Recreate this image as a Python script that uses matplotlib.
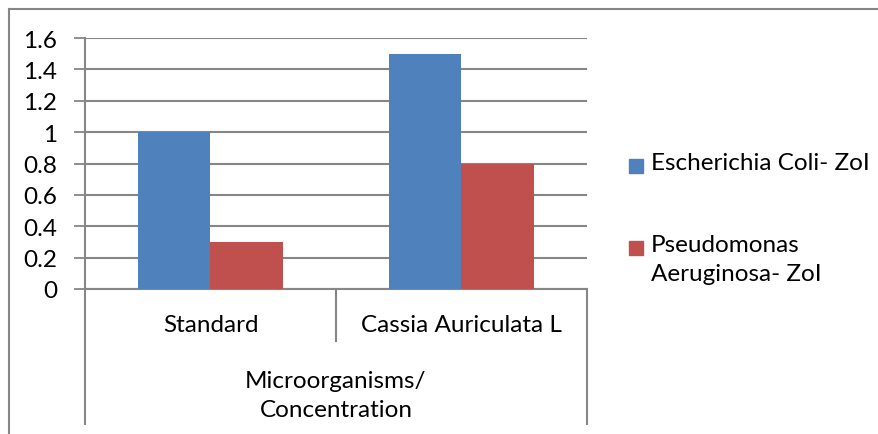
import matplotlib.pyplot as plt
from matplotlib.lines import Line2D
from matplotlib.patches import Rectangle
import numpy as np

categories = ['Standard', 'Cassia Auriculata L']
series_names = ['Escherichia Coli- ZoI', 'Pseudomonas\nAeruginosa- ZoI']
e_coli = [1.0, 1.5]
pseudomonas = [0.3, 0.8]
y_ticks = [0, 0.2, 0.4, 0.6, 0.8, 1, 1.2, 1.4, 1.6]
y_tick_labels = ['0', '0.2', '0.4', '0.6', '0.8', '1', '1.2', '1.4', '1.6']
axis_title = 'Microorganisms/\nConcentration'

plt.rcParams['font.family'] = ['Lato', 'DejaVu Sans']
W, H = 879, 435
fs = 17.5
fig = plt.figure(figsize=(W / 100, H / 100), dpi=100)
grey = '#868686'
blue = '#4F81BD'
red = '#C0504D'
colors = [blue, red]

# plot area in pixels
x0, x1, ytop, ybot = 85, 587, 39, 290
ax = fig.add_axes([x0 / W, (H - ybot) / H, (x1 - x0) / W, (ybot - ytop) / H])

x = np.arange(len(categories)) + 0.5
w = 72 / 250
ax.bar(x - w / 2, e_coli, w, color=blue, zorder=3)
ax.bar(x + w / 2, pseudomonas, w, color=red, zorder=3)

ax.set_xlim(0, len(categories))
ax.set_ylim(0, 1.6)
ax.set_yticks(y_ticks)
ax.set_yticklabels(y_tick_labels, fontsize=fs)
ax.tick_params(axis='y', length=8, width=1.3, color=grey, pad=12)
ax.set_xticks([])
ax.yaxis.grid(True, color=grey, linewidth=1.5, zorder=0)
ax.set_axisbelow(True)
for s in ['top', 'right']:
    ax.spines[s].set_visible(False)
for s in ['left', 'bottom']:
    ax.spines[s].set_color(grey)
    ax.spines[s].set_linewidth(1.5)

# category dividers below the axis
trans = ax.get_xaxis_transform()
ph = ybot - ytop
deep = -(425 - ybot) / ph
mid = -(342 - ybot) / ph
ax.plot([0, 0], [0, deep], transform=trans, color=grey, lw=1.5, clip_on=False)
ax.plot([2, 2], [0, deep], transform=trans, color=grey, lw=1.5, clip_on=False)
ax.plot([1, 1], [0, mid], transform=trans, color=grey, lw=1.5, clip_on=False)

for xi, cat in zip(x, categories):
    ax.text(xi, -(325 - ybot) / ph, cat, transform=trans, ha='center', va='center', fontsize=fs)
ax.text(1, -(396 - ybot) / ph, axis_title, transform=trans, ha='center', va='center',
        fontsize=fs, linespacing=1.45)

# legend: square markers with labels, top-aligned to first text line
leg_rows = [167, 249]
for name, c, yc in zip(series_names, colors, leg_rows):
    fig.add_artist(Rectangle((629 / W, (H - yc - 7) / H), 14 / W, 14 / H,
                             transform=fig.transFigure, color=c))
    fig.text(651 / W, (H - yc + 14) / H, name, ha='left', va='top', fontsize=fs, linespacing=1.45)

# outer chart border
fig.add_artist(Line2D([9 / W, 9 / W], [0, (H - 10) / H], color=grey, lw=1.5))
fig.add_artist(Line2D([9 / W, 1], [(H - 10) / H, (H - 10) / H], color=grey, lw=1.5))

fig.savefig('out.png', dpi=100)
